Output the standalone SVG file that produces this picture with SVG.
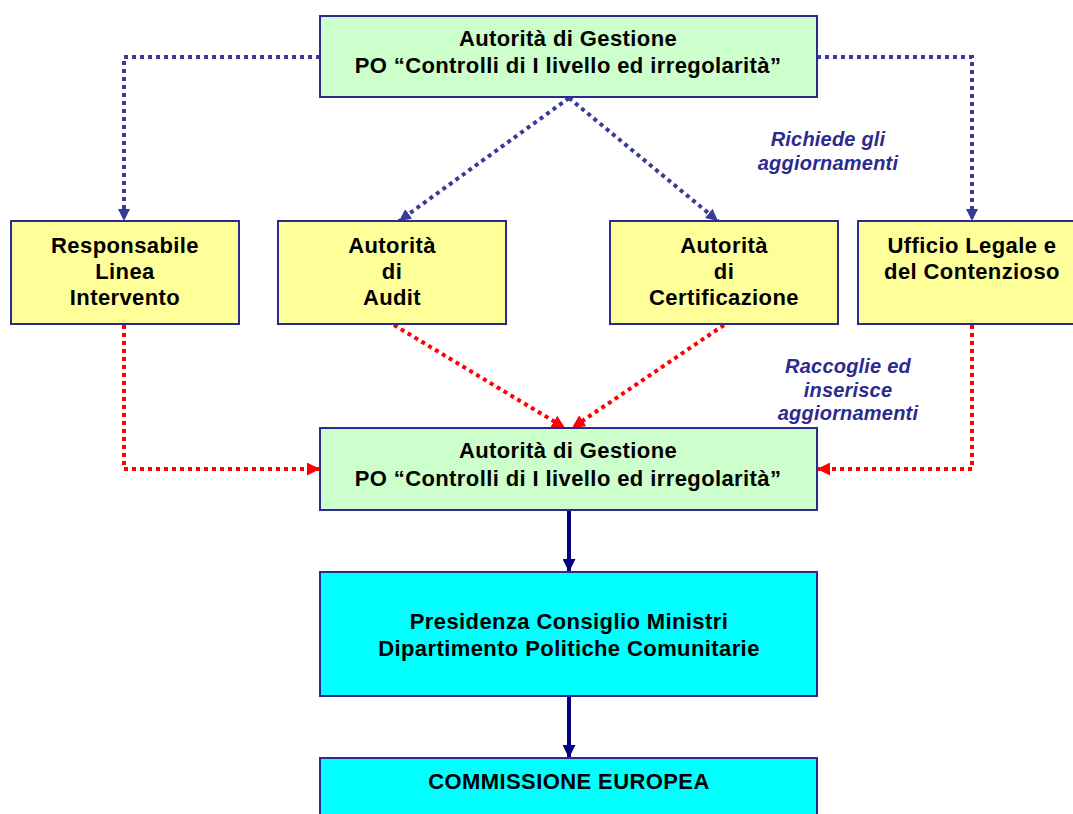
<svg xmlns="http://www.w3.org/2000/svg" width="1073" height="814" viewBox="0 0 1073 814">
<style>
.box{stroke:#2b2b8f;stroke-width:2}
.g{fill:#ccffcc}.y{fill:#ffff99}.c{fill:#00ffff}
.t{font-family:"Liberation Sans",Arial,sans-serif;font-weight:bold;font-size:22px;letter-spacing:0.4px;fill:#000;text-anchor:middle}
.lbl{font-family:"Liberation Sans",Arial,sans-serif;font-weight:bold;font-style:italic;font-size:20px;letter-spacing:0.2px;fill:#2b2b8f;text-anchor:middle}
.bd{fill:none;stroke:#3a3a9a;stroke-width:4;stroke-dasharray:4 4;marker-end:url(#ab)}
.rd{fill:none;stroke:#ff0000;stroke-width:4;stroke-dasharray:4 4;marker-end:url(#ar)}
.sd{fill:none;stroke:#000080;stroke-width:4;marker-end:url(#an)}
</style>
<defs>
<marker id="ab" viewBox="0 0 12 12" refX="12" refY="6" markerWidth="12" markerHeight="12" markerUnits="userSpaceOnUse" orient="auto"><path d="M0,0L12,6L0,12z" fill="#3a3a9a"/></marker>
<marker id="ar" viewBox="0 0 12 12" refX="12" refY="6" markerWidth="13" markerHeight="13" markerUnits="userSpaceOnUse" orient="auto"><path d="M0,0L12,6L0,12z" fill="#ff0000"/></marker>
<marker id="an" viewBox="0 0 12 12" refX="12" refY="6" markerWidth="13" markerHeight="13" markerUnits="userSpaceOnUse" orient="auto"><path d="M0,0L12,6L0,12z" fill="#000080"/></marker>
</defs>
<rect width="1073" height="814" fill="#fff"/>
<g id="connectors">
<path class="bd" d="M320,57H124V221"/>
<path class="bd" d="M817,57H972V221"/>
<path class="bd" d="M569,98L399,221"/>
<path class="bd" d="M569,98L718,221"/>
<path class="rd" d="M124,325V469H320"/>
<path class="rd" d="M972,325V469H817"/>
<path class="rd" d="M394,325L565,428"/>
<path class="rd" d="M724,325L572,428"/>
<path class="sd" d="M569,511V572"/>
<path class="sd" d="M569,697V758"/>
</g>
<g id="label-richiede">
<text class="lbl" x="828" y="146">Richiede gli</text>
<text class="lbl" x="828" y="170">aggiornamenti</text>
</g>
<g id="label-raccoglie">
<text class="lbl" x="848" y="373">Raccoglie ed</text>
<text class="lbl" x="848" y="397">inserisce</text>
<text class="lbl" x="848" y="420">aggiornamenti</text>
</g>
<g id="ag-top">
<rect class="box g" x="320" y="16" width="497" height="81"/>
<text class="t" x="568" y="46">Autorità di Gestione</text>
<text class="t" x="568" y="73">PO “Controlli di I livello ed irregolarità”</text>
</g>
<g id="responsabile">
<rect class="box y" x="11" y="221" width="228" height="103"/>
<text class="t" x="125" y="253">Responsabile</text>
<text class="t" x="125" y="279">Linea</text>
<text class="t" x="125" y="305">Intervento</text>
</g>
<g id="audit">
<rect class="box y" x="278" y="221" width="228" height="103"/>
<text class="t" x="392" y="253">Autorità</text>
<text class="t" x="392" y="279">di</text>
<text class="t" x="392" y="305">Audit</text>
</g>
<g id="certificazione">
<rect class="box y" x="610" y="221" width="228" height="103"/>
<text class="t" x="724" y="253">Autorità</text>
<text class="t" x="724" y="279">di</text>
<text class="t" x="724" y="305">Certificazione</text>
</g>
<g id="ufficio">
<rect class="box y" x="858" y="221" width="229" height="103"/>
<text class="t" x="972" y="253">Ufficio Legale e</text>
<text class="t" x="972" y="279">del Contenzioso</text>
</g>
<g id="ag-mid">
<rect class="box g" x="320" y="428" width="497" height="82"/>
<text class="t" x="568" y="458">Autorità di Gestione</text>
<text class="t" x="568" y="486">PO “Controlli di I livello ed irregolarità”</text>
</g>
<g id="presidenza">
<rect class="box c" x="320" y="572" width="497" height="124"/>
<text class="t" x="569" y="629">Presidenza Consiglio Ministri</text>
<text class="t" x="569" y="656">Dipartimento Politiche Comunitarie</text>
</g>
<g id="commissione">
<rect class="box c" x="320" y="758" width="497" height="70"/>
<text class="t" x="569" y="789">COMMISSIONE EUROPEA</text>
</g>
</svg>
